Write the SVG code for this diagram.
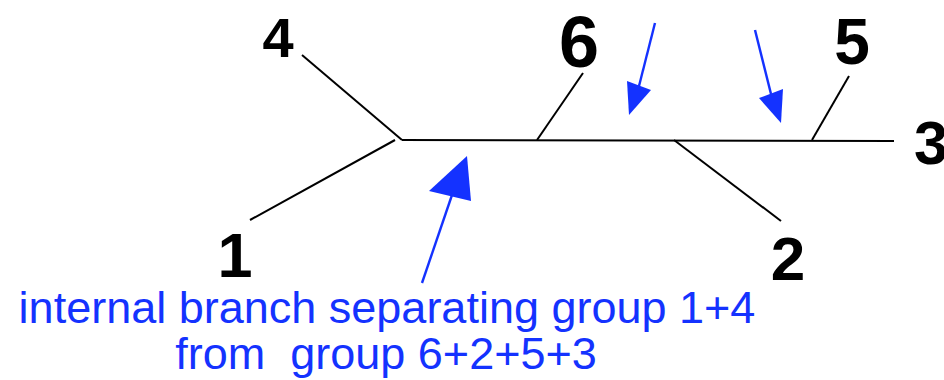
<svg xmlns="http://www.w3.org/2000/svg" width="944" height="380" viewBox="0 0 944 380">
<style>
.br{stroke:#000;stroke-width:2;fill:none;stroke-linecap:butt}
.lbl{font-family:"Liberation Sans",Arial,sans-serif;font-weight:bold;fill:#000;text-anchor:middle}
.ar{stroke:#1432ff;stroke-width:2.4;fill:none}
.ah{fill:#1432ff;stroke:none}
.note{font-family:"Liberation Sans",Arial,sans-serif;font-size:45px;fill:#1432ff;text-anchor:middle}
</style>
<rect width="944" height="380" fill="#fff"/>
<g id="connectors">
<line class="br" x1="402" y1="140" x2="894" y2="141"/>
<line class="br" x1="302" y1="55" x2="402" y2="140"/>
<line class="br" x1="395" y1="140" x2="250" y2="220"/>
<line class="br" x1="583" y1="73" x2="537" y2="140"/>
<line class="br" x1="674" y1="140" x2="781" y2="221"/>
<line class="br" x1="849" y1="76" x2="812" y2="140"/>
</g>
<g id="node-4"><text class="lbl" x="278" y="57" font-size="56">4</text></g>
<g id="node-6"><text class="lbl" x="579" y="67" font-size="72">6</text></g>
<g id="node-5"><text class="lbl" x="852" y="64" font-size="64">5</text></g>
<g id="node-3"><text class="lbl" x="931" y="164" font-size="61">3</text></g>
<g id="node-1"><text class="lbl" x="235" y="277" font-size="63">1</text></g>
<g id="node-2"><text class="lbl" x="788" y="280" font-size="62">2</text></g>
<g id="annotations">
<line class="ar" x1="655" y1="23" x2="639" y2="86"/>
<polygon class="ah" points="629,115 627,81 651,90"/>
<line class="ar" x1="755" y1="30" x2="771" y2="94"/>
<polygon class="ah" points="781,123 759,98 783,89"/>
<line class="ar" x1="422" y1="283" x2="452" y2="195"/>
<polygon class="ah" points="467,156 429,191 471,201"/>
<text class="note" x="387" y="323" xml:space="preserve">internal branch separating group 1+4</text>
<text class="note" x="386" y="369" xml:space="preserve">from  group 6+2+5+3</text>
</g>
</svg>
